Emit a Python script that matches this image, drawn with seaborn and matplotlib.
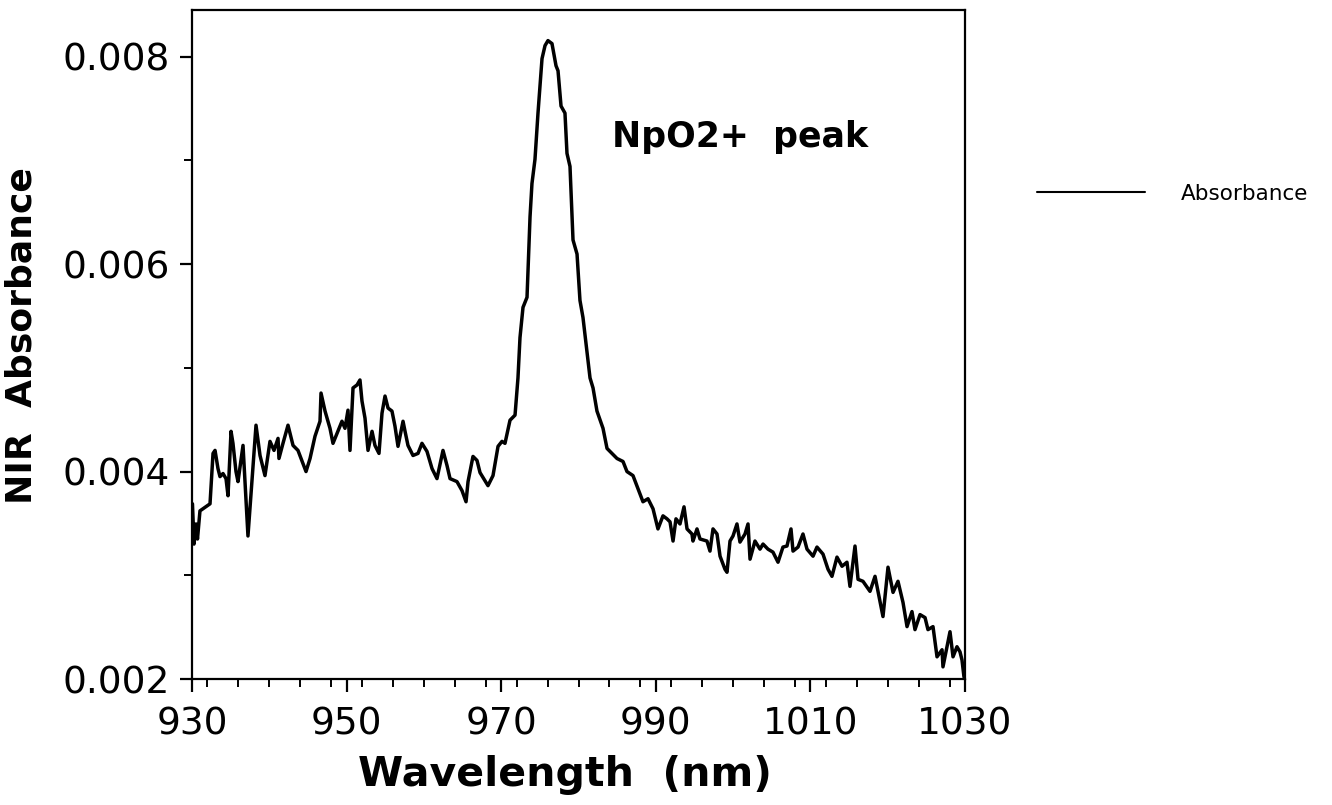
import matplotlib
matplotlib.use("Agg")
import matplotlib.pyplot as plt
from matplotlib.ticker import MultipleLocator, FormatStrFormatter
import seaborn as sns
import pandas as pd

# ---- data ----
wavelength_nm = [
    930.06, 930.26, 930.52, 930.71, 931.03, 932.33, 932.72, 932.98, 933.36, 933.62,
    934.01, 934.40, 934.66, 935.05, 935.30, 935.69, 935.95, 936.60, 937.24, 938.28,
    938.80, 939.44, 940.09, 940.61, 941.13, 941.25, 941.77, 942.42, 943.07, 943.71,
    944.75, 945.27, 945.91, 946.56, 946.69, 947.21, 947.85, 948.24, 949.40, 949.79,
    950.18, 950.44, 950.70, 950.83, 951.35, 951.73, 951.99, 952.38, 952.77, 953.29,
    953.67, 954.19, 954.58, 954.97, 955.36, 955.87, 956.26, 956.65, 957.30, 957.56,
    957.94, 958.59, 959.24, 959.75, 960.40, 961.05, 961.69, 962.47, 962.99, 963.38,
    964.28, 964.93, 965.45, 965.71, 966.35, 966.87, 967.26, 968.29, 968.94, 969.59,
    970.10, 970.49, 971.14, 971.79, 972.17, 972.43, 972.82, 973.34, 973.73, 973.98,
    974.37, 974.76, 975.28, 975.67, 976.05, 976.57, 977.09, 977.35, 977.74, 978.25,
    978.51, 978.90, 979.29, 979.81, 980.19, 980.58, 981.49, 981.88, 982.39, 983.17,
    983.69, 984.98, 985.76, 986.27, 987.05, 987.70, 988.34, 988.99, 989.64, 990.28,
    990.93, 991.45, 991.84, 992.23, 992.61, 993.13, 993.65, 994.04, 994.68, 994.81,
    995.33, 995.72, 996.62, 997.01, 997.40, 997.92, 998.31, 998.95, 999.21, 999.60,
    999.99, 1000.50, 1000.89, 1001.54, 1001.93, 1002.19, 1002.83, 1003.48, 1003.87, 1004.51,
    1005.16, 1005.81, 1006.45, 1006.97, 1007.49, 1007.75, 1008.40, 1009.04, 1009.56, 1010.34,
    1010.85, 1011.63, 1012.28, 1012.79, 1013.44, 1014.09, 1014.73, 1015.12, 1015.77, 1016.16,
    1016.80, 1017.71, 1018.36, 1018.74, 1019.39, 1020.04, 1020.69, 1021.33, 1021.98, 1022.50,
    1023.14, 1023.53, 1024.18, 1024.83, 1025.21, 1025.86, 1026.38, 1027.03, 1027.15, 1027.67,
    1028.06, 1028.45, 1028.96, 1029.35, 1029.61, 1029.87,
]
absorbance = [
    0.003689, 0.003301, 0.003495, 0.003350, 0.003621, 0.003689, 0.004175, 0.004204, 0.004029, 0.003951,
    0.003981, 0.003932, 0.003767, 0.004388, 0.004272, 0.004000, 0.003903, 0.004252, 0.003379, 0.004447,
    0.004155, 0.003961, 0.004291, 0.004204, 0.004320, 0.004126, 0.004272, 0.004447, 0.004252, 0.004204,
    0.004000, 0.004126, 0.004340, 0.004485, 0.004757, 0.004583, 0.004417, 0.004272, 0.004485, 0.004417,
    0.004592, 0.004204, 0.004612, 0.004806, 0.004835, 0.004883, 0.004680, 0.004515, 0.004204, 0.004388,
    0.004252, 0.004175, 0.004563, 0.004728, 0.004612, 0.004583, 0.004437, 0.004243, 0.004485, 0.004388,
    0.004252, 0.004155, 0.004175, 0.004272, 0.004194, 0.004029, 0.003932, 0.004204, 0.004058, 0.003932,
    0.003903, 0.003816, 0.003709, 0.003903, 0.004146, 0.004107, 0.003990, 0.003864, 0.003961, 0.004243,
    0.004291, 0.004272, 0.004495, 0.004544, 0.004903, 0.005291, 0.005583, 0.005680, 0.006456, 0.006777,
    0.007010, 0.007456, 0.007981, 0.008107, 0.008155, 0.008126, 0.007913, 0.007864, 0.007524, 0.007456,
    0.007068, 0.006942, 0.006233, 0.006097, 0.005650, 0.005485, 0.004903, 0.004806, 0.004583, 0.004417,
    0.004223, 0.004126, 0.004097, 0.004000, 0.003961, 0.003835, 0.003709, 0.003738, 0.003641, 0.003447,
    0.003573, 0.003544, 0.003515, 0.003330, 0.003544, 0.003495, 0.003660, 0.003447, 0.003398, 0.003330,
    0.003447, 0.003350, 0.003330, 0.003233, 0.003447, 0.003398, 0.003184, 0.003058, 0.003029, 0.003330,
    0.003379, 0.003495, 0.003320, 0.003398, 0.003495, 0.003155, 0.003330, 0.003252, 0.003301, 0.003252,
    0.003223, 0.003126, 0.003272, 0.003282, 0.003447, 0.003233, 0.003272, 0.003398, 0.003252, 0.003184,
    0.003272, 0.003204, 0.003058, 0.002990, 0.003175, 0.003087, 0.003126, 0.002893, 0.003282, 0.002961,
    0.002942, 0.002845, 0.002990, 0.002845, 0.002602, 0.003078, 0.002835, 0.002942, 0.002738, 0.002505,
    0.002650, 0.002476, 0.002621, 0.002592, 0.002476, 0.002505, 0.002214, 0.002282, 0.002117, 0.002311,
    0.002456, 0.002214, 0.002311, 0.002262, 0.002184, 0.002019,
]
series_label = "Absorbance"
x_label = "Wavelength  (nm)"
y_label = "NIR  Absorbance"
annotation_text = "NpO2+  peak"
x_ticks = [930, 950, 970, 990, 1010, 1030]
y_ticks = [0.002, 0.004, 0.006, 0.008]

df = pd.DataFrame({"Wavelength": wavelength_nm, "Absorbance": absorbance})

sns.set_style("ticks")
plt.rcParams["font.family"] = ["DejaVu Sans"]
plt.rcParams["text.color"] = "black"
plt.rcParams["axes.labelcolor"] = "black"
plt.rcParams["xtick.color"] = "black"
plt.rcParams["ytick.color"] = "black"

fig = plt.figure(figsize=(13.32, 8.05), dpi=100)
fig.patch.set_facecolor("white")
ax = fig.add_axes([192 / 1332, 1 - 679 / 805, (965 - 192) / 1332, (679 - 10) / 805])

sns.lineplot(data=df, x="Wavelength", y="Absorbance", color="black", linewidth=2.5,
             estimator=None, sort=False, label=series_label, ax=ax)

ax.set_xlim(930, 1030)
ax.set_ylim(0.002, 0.00845)
ax.set_xticks(x_ticks)
ax.set_yticks(y_ticks)
ax.xaxis.set_minor_locator(MultipleLocator(4))
ax.yaxis.set_minor_locator(MultipleLocator(0.001))
ax.yaxis.set_major_formatter(FormatStrFormatter("%.3f"))

for s in ax.spines.values():
    s.set_visible(True)
    s.set_linewidth(1.6)
    s.set_color("black")

ax.tick_params(axis="both", which="major", direction="out", length=9, width=1.6,
               labelsize=27, colors="black")
ax.tick_params(axis="both", which="minor", direction="out", length=5.5, width=1.4,
               colors="black")
ax.tick_params(axis="x", which="major", pad=11)
ax.tick_params(axis="y", which="major", pad=7)

ax.set_xlabel(x_label, fontsize=29.5, fontweight="bold", color="black")
ax.set_ylabel(y_label, fontsize=26, fontweight="bold", color="black")
ax.xaxis.set_label_coords(0.483, -0.113)
ax.yaxis.set_label_coords(-0.199, 0.514)

ax.text(984.3, 0.00713, annotation_text, fontsize=25, fontweight="bold",
        ha="left", va="baseline", color="black")

leg = ax.legend(loc="center left", bbox_to_anchor=(1037 / 1332, 1 - 194 / 805),
                bbox_transform=fig.transFigure, frameon=False, fontsize=15.5,
                handlelength=5.0, handletextpad=1.7, borderpad=0, borderaxespad=0)
for h in leg.get_lines():
    h.set_linewidth(1.5)
for t in leg.get_texts():
    t.set_color("black")

fig.savefig("out.png", dpi=100, facecolor="white")
